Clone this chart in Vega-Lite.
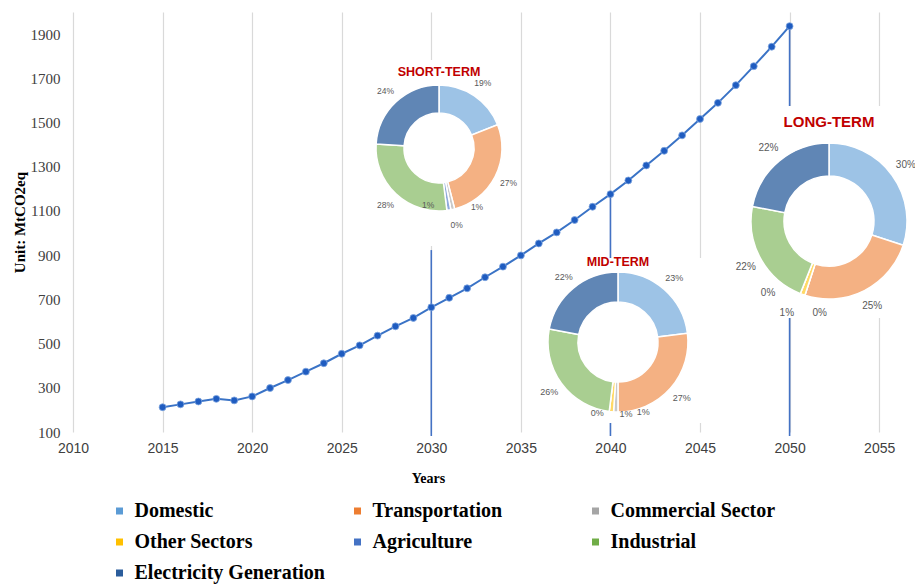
{
  "$schema": "https://vega.github.io/schema/vega-lite/v6.json",
  "width": 842,
  "height": 420,
  "autosize": "none",
  "padding": {"left": 73, "top": 12, "right": 0, "bottom": 153},
  "background": "white",
  "config": {
    "view": {"stroke": null},
    "axisX": {
      "domain": false, "ticks": false, "grid": true, "gridColor": "#d9d9d9", "gridWidth": 1.2,
      "labelFont": "Liberation Sans", "labelFontSize": 14, "labelColor": "#404040", "labelPadding": 9,
      "labelFlush": false, "labelOverlap": false,
      "titleFont": "Liberation Serif", "titleFontSize": 14, "titleFontWeight": "bold", "titleColor": "#000000",
      "titleX": 355, "titleY": 46, "titleBaseline": "middle", "titleAlign": "center"
    },
    "axisY": {
      "domain": false, "ticks": false, "grid": false,
      "labelFont": "Liberation Serif", "labelFontSize": 15, "labelColor": "#404040", "labelPadding": 13,
      "labelOverlap": false,
      "titleFont": "Liberation Serif", "titleFontSize": 15, "titleFontWeight": "bold", "titleColor": "#000000",
      "titleX": -54, "titleY": 210, "titleBaseline": "middle", "titleAlign": "center", "titleAngle": -90
    },
    "legend": {
      "orient": "none", "legendX": 36.5, "legendY": 489, "columns": 3, "direction": "horizontal", "gridAlign": "all",
      "symbolType": "square", "symbolSize": 49, "symbolStrokeWidth": 0, "symbolOpacity": 1,
      "labelFont": "Liberation Serif", "labelFontSize": 20, "labelFontWeight": "bold", "labelColor": "#000000",
      "labelLimit": 300, "labelOffset": 5, "rowPadding": 11, "columnPadding": 22, "padding": 0
    }
  },
  "datasets": {
    "emissions": [
      {"year": 2015, "value": 212}, {"year": 2016, "value": 225}, {"year": 2017, "value": 238},
      {"year": 2018, "value": 250}, {"year": 2019, "value": 243}, {"year": 2020, "value": 261},
      {"year": 2021, "value": 299}, {"year": 2022, "value": 335}, {"year": 2023, "value": 373},
      {"year": 2024, "value": 411}, {"year": 2025, "value": 454}, {"year": 2026, "value": 492},
      {"year": 2027, "value": 536}, {"year": 2028, "value": 578}, {"year": 2029, "value": 616},
      {"year": 2030, "value": 664}, {"year": 2031, "value": 707}, {"year": 2032, "value": 750},
      {"year": 2033, "value": 800}, {"year": 2034, "value": 848}, {"year": 2035, "value": 899},
      {"year": 2036, "value": 953}, {"year": 2037, "value": 1003}, {"year": 2038, "value": 1059},
      {"year": 2039, "value": 1119}, {"year": 2040, "value": 1176}, {"year": 2041, "value": 1238},
      {"year": 2042, "value": 1306}, {"year": 2043, "value": 1372}, {"year": 2044, "value": 1442},
      {"year": 2045, "value": 1516}, {"year": 2046, "value": 1589}, {"year": 2047, "value": 1669},
      {"year": 2048, "value": 1755}, {"year": 2049, "value": 1843}, {"year": 2050, "value": 1936}
    ],
    "links": [
      {"year": 2030, "from": 923, "to": 82},
      {"year": 2040, "from": 1176, "to": 82},
      {"year": 2050, "from": 1936, "to": 82}
    ],
    "shares": [
      {"term": "Short-term", "sector": "Domestic", "k": 1, "share": 0.19},
      {"term": "Short-term", "sector": "Transportation", "k": 2, "share": 0.27},
      {"term": "Short-term", "sector": "Commercial Sector", "k": 3, "share": 0.01},
      {"term": "Short-term", "sector": "Other Sectors", "k": 4, "share": 0.0},
      {"term": "Short-term", "sector": "Agriculture", "k": 5, "share": 0.01},
      {"term": "Short-term", "sector": "Industrial", "k": 6, "share": 0.28},
      {"term": "Short-term", "sector": "Electricity Generation", "k": 7, "share": 0.24},
      {"term": "Mid-term", "sector": "Domestic", "k": 1, "share": 0.23},
      {"term": "Mid-term", "sector": "Transportation", "k": 2, "share": 0.27},
      {"term": "Mid-term", "sector": "Commercial Sector", "k": 3, "share": 0.01},
      {"term": "Mid-term", "sector": "Other Sectors", "k": 4, "share": 0.01},
      {"term": "Mid-term", "sector": "Agriculture", "k": 5, "share": 0.0},
      {"term": "Mid-term", "sector": "Industrial", "k": 6, "share": 0.26},
      {"term": "Mid-term", "sector": "Electricity Generation", "k": 7, "share": 0.22},
      {"term": "Long-term", "sector": "Domestic", "k": 1, "share": 0.30},
      {"term": "Long-term", "sector": "Transportation", "k": 2, "share": 0.25},
      {"term": "Long-term", "sector": "Commercial Sector", "k": 3, "share": 0.0},
      {"term": "Long-term", "sector": "Other Sectors", "k": 4, "share": 0.01},
      {"term": "Long-term", "sector": "Agriculture", "k": 5, "share": 0.0},
      {"term": "Long-term", "sector": "Industrial", "k": 6, "share": 0.22},
      {"term": "Long-term", "sector": "Electricity Generation", "k": 7, "share": 0.22}
    ]
  },
  "layer": [
    {
      "data": {"name": "links"},
      "mark": {"type": "rule", "color": "#4472c4", "strokeWidth": 1.6},
      "encoding": {
        "x": {"field": "year", "type": "quantitative", "scale": {"domain": [2010, 2057], "nice": false, "zero": false}, "axis": {"values": [2010, 2015, 2020, 2025, 2030, 2035, 2040, 2045, 2050, 2055], "format": "d", "title": "Years"}},
        "y": {"field": "from", "type": "quantitative", "scale": {"domain": [100, 2000], "nice": false, "zero": false}, "axis": {"values": [100, 300, 500, 700, 900, 1100, 1300, 1500, 1700, 1900], "format": "d", "title": "Unit: MtCO2eq"}},
        "y2": {"field": "to"}
      }
    },
    {
      "data": {"values": [{}]},
      "mark": {"type": "rect", "color": "white"},
      "encoding": {
        "x": {"datum": 2026.36, "type": "quantitative", "scale": {"domain": [2010, 2057], "nice": false, "zero": false}, "axis": {"values": [2010, 2015, 2020, 2025, 2030, 2035, 2040, 2045, 2050, 2055], "format": "d", "title": "Years"}},
        "x2": {"datum": 2034.62},
        "y": {"datum": 941, "type": "quantitative", "scale": {"domain": [100, 2000], "nice": false, "zero": false}, "axis": {"values": [100, 300, 500, 700, 900, 1100, 1300, 1500, 1700, 1900], "format": "d", "title": "Unit: MtCO2eq"}},
        "y2": {"datum": 1783}
      }
    },
    {
      "data": {"values": [{}]},
      "mark": {"type": "rect", "color": "white"},
      "encoding": {
        "x": {"datum": 2035.96, "type": "quantitative", "scale": {"domain": [2010, 2057], "nice": false, "zero": false}, "axis": {"values": [2010, 2015, 2020, 2025, 2030, 2035, 2040, 2045, 2050, 2055], "format": "d", "title": "Years"}},
        "x2": {"datum": 2045.33},
        "y": {"datum": 141, "type": "quantitative", "scale": {"domain": [100, 2000], "nice": false, "zero": false}, "axis": {"values": [100, 300, 500, 700, 900, 1100, 1300, 1500, 1700, 1900], "format": "d", "title": "Unit: MtCO2eq"}},
        "y2": {"datum": 887}
      }
    },
    {
      "data": {"values": [{}]},
      "mark": {"type": "rect", "color": "white"},
      "encoding": {
        "x": {"datum": 2047.34, "type": "quantitative", "scale": {"domain": [2010, 2057], "nice": false, "zero": false}, "axis": {"values": [2010, 2015, 2020, 2025, 2030, 2035, 2040, 2045, 2050, 2055], "format": "d", "title": "Years"}},
        "x2": {"datum": 2057},
        "y": {"datum": 616, "type": "quantitative", "scale": {"domain": [100, 2000], "nice": false, "zero": false}, "axis": {"values": [100, 300, 500, 700, 900, 1100, 1300, 1500, 1700, 1900], "format": "d", "title": "Unit: MtCO2eq"}},
        "y2": {"datum": 1575}
      }
    },
    {
      "data": {"name": "emissions"},
      "mark": {"type": "line", "color": "#3a73c6", "strokeWidth": 2},
      "encoding": {
        "x": {"field": "year", "type": "quantitative", "scale": {"domain": [2010, 2057], "nice": false, "zero": false}, "axis": {"values": [2010, 2015, 2020, 2025, 2030, 2035, 2040, 2045, 2050, 2055], "format": "d", "title": "Years"}},
        "y": {"field": "value", "type": "quantitative", "scale": {"domain": [100, 2000], "nice": false, "zero": false}, "axis": {"values": [100, 300, 500, 700, 900, 1100, 1300, 1500, 1700, 1900], "format": "d", "title": "Unit: MtCO2eq"}}
      }
    },
    {
      "data": {"name": "emissions"},
      "mark": {"type": "point", "filled": true, "shape": "circle", "size": 48, "color": "#1f5cc0", "opacity": 1, "stroke": "#7fa6e0", "strokeWidth": 0.8},
      "encoding": {
        "x": {"field": "year", "type": "quantitative", "scale": {"domain": [2010, 2057], "nice": false, "zero": false}, "axis": {"values": [2010, 2015, 2020, 2025, 2030, 2035, 2040, 2045, 2050, 2055], "format": "d", "title": "Years"}},
        "y": {"field": "value", "type": "quantitative", "scale": {"domain": [100, 2000], "nice": false, "zero": false}, "axis": {"values": [100, 300, 500, 700, 900, 1100, 1300, 1500, 1700, 1900], "format": "d", "title": "Unit: MtCO2eq"}}
      }
    },
    {
      "data": {"name": "shares"},
      "transform": [{"filter": "datum.term == 'Short-term'"}],
      "encoding": {
        "x": {"datum": 2030.43, "type": "quantitative", "scale": {"domain": [2010, 2057], "nice": false, "zero": false}, "axis": {"values": [2010, 2015, 2020, 2025, 2030, 2035, 2040, 2045, 2050, 2055], "format": "d", "title": "Years"}},
        "y": {"datum": 1385, "type": "quantitative", "scale": {"domain": [100, 2000], "nice": false, "zero": false}, "axis": {"values": [100, 300, 500, 700, 900, 1100, 1300, 1500, 1700, 1900], "format": "d", "title": "Unit: MtCO2eq"}},
        "theta": {"field": "share", "type": "quantitative", "stack": true, "scale": {"domain": [0, 1]}},
        "order": {"field": "k", "type": "quantitative"},
        "detail": {"field": "sector"},
        "color": {
          "field": "sector", "type": "nominal", "title": null,
          "scale": {
            "domain": ["Domestic", "Transportation", "Commercial Sector", "Other Sectors", "Agriculture", "Industrial", "Electricity Generation"],
            "range": ["#5b9bd5", "#ed7d31", "#a5a5a5", "#ffc000", "#4472c4", "#70ad47", "#2b5d9c"]
          }
        }
      },
      "layer": [
        {
          "mark": {"type": "arc", "outerRadius": 63, "innerRadius": 35, "stroke": "white", "strokeWidth": 1.5},
          "encoding": {"fillOpacity": {"condition": {"test": "datum.sector == 'Electricity Generation'", "value": 0.75}, "value": 0.6}}
        },
        {
          "mark": {"type": "text", "radius": 78, "font": "Liberation Sans", "fontSize": 8.5},
          "encoding": {"color": {"value": "#595959"}, "text": {"condition": {"test": "datum.share >= 0.05", "field": "share", "type": "quantitative", "format": ".0%"}, "value": ""}}
        },
        {
          "mark": {"type": "text", "radius": 78, "dx": 21, "dy": -17, "font": "Liberation Sans", "fontSize": 8.5},
          "encoding": {"color": {"value": "#595959"}, "text": {"condition": {"test": "datum.sector == 'Commercial Sector'", "field": "share", "type": "quantitative", "format": ".0%"}, "value": ""}}
        },
        {
          "mark": {"type": "text", "radius": 78, "dx": 3, "dy": 0, "font": "Liberation Sans", "fontSize": 8.5},
          "encoding": {"color": {"value": "#595959"}, "text": {"condition": {"test": "datum.sector == 'Other Sectors'", "field": "share", "type": "quantitative", "format": ".0%"}, "value": ""}}
        },
        {
          "mark": {"type": "text", "radius": 78, "dx": -23, "dy": -20, "font": "Liberation Sans", "fontSize": 8.5},
          "encoding": {"color": {"value": "#595959"}, "text": {"condition": {"test": "datum.sector == 'Agriculture'", "field": "share", "type": "quantitative", "format": ".0%"}, "value": ""}}
        }
      ]
    },
    {
      "data": {"name": "shares"},
      "transform": [{"filter": "datum.term == 'Mid-term'"}],
      "encoding": {
        "x": {"datum": 2040.42, "type": "quantitative", "scale": {"domain": [2010, 2057], "nice": false, "zero": false}, "axis": {"values": [2010, 2015, 2020, 2025, 2030, 2035, 2040, 2045, 2050, 2055], "format": "d", "title": "Years"}},
        "y": {"datum": 507, "type": "quantitative", "scale": {"domain": [100, 2000], "nice": false, "zero": false}, "axis": {"values": [100, 300, 500, 700, 900, 1100, 1300, 1500, 1700, 1900], "format": "d", "title": "Unit: MtCO2eq"}},
        "theta": {"field": "share", "type": "quantitative", "stack": true, "scale": {"domain": [0, 1]}},
        "order": {"field": "k", "type": "quantitative"},
        "detail": {"field": "sector"},
        "color": {
          "field": "sector", "type": "nominal", "title": null,
          "scale": {
            "domain": ["Domestic", "Transportation", "Commercial Sector", "Other Sectors", "Agriculture", "Industrial", "Electricity Generation"],
            "range": ["#5b9bd5", "#ed7d31", "#a5a5a5", "#ffc000", "#4472c4", "#70ad47", "#2b5d9c"]
          }
        }
      },
      "layer": [
        {
          "mark": {"type": "arc", "outerRadius": 70, "innerRadius": 40, "stroke": "white", "strokeWidth": 1.5},
          "encoding": {"fillOpacity": {"condition": {"test": "datum.sector == 'Electricity Generation'", "value": 0.75}, "value": 0.6}}
        },
        {
          "mark": {"type": "text", "radius": 85, "font": "Liberation Sans", "fontSize": 9},
          "encoding": {"color": {"value": "#595959"}, "text": {"condition": {"test": "datum.share >= 0.05", "field": "share", "type": "quantitative", "format": ".0%"}, "value": ""}}
        },
        {
          "mark": {"type": "text", "radius": 85, "dx": 28, "dy": -15, "font": "Liberation Sans", "fontSize": 9},
          "encoding": {"color": {"value": "#595959"}, "text": {"condition": {"test": "datum.sector == 'Commercial Sector'", "field": "share", "type": "quantitative", "format": ".0%"}, "value": ""}}
        },
        {
          "mark": {"type": "text", "radius": 85, "dx": 16, "dy": -13, "font": "Liberation Sans", "fontSize": 9},
          "encoding": {"color": {"value": "#595959"}, "text": {"condition": {"test": "datum.sector == 'Other Sectors'", "field": "share", "type": "quantitative", "format": ".0%"}, "value": ""}}
        },
        {
          "mark": {"type": "text", "radius": 85, "dx": -10, "dy": -13, "font": "Liberation Sans", "fontSize": 9},
          "encoding": {"color": {"value": "#595959"}, "text": {"condition": {"test": "datum.sector == 'Agriculture'", "field": "share", "type": "quantitative", "format": ".0%"}, "value": ""}}
        }
      ]
    },
    {
      "data": {"name": "shares"},
      "transform": [{"filter": "datum.term == 'Long-term'"}],
      "encoding": {
        "x": {"datum": 2052.2, "type": "quantitative", "scale": {"domain": [2010, 2057], "nice": false, "zero": false}, "axis": {"values": [2010, 2015, 2020, 2025, 2030, 2035, 2040, 2045, 2050, 2055], "format": "d", "title": "Years"}},
        "y": {"datum": 1054, "type": "quantitative", "scale": {"domain": [100, 2000], "nice": false, "zero": false}, "axis": {"values": [100, 300, 500, 700, 900, 1100, 1300, 1500, 1700, 1900], "format": "d", "title": "Unit: MtCO2eq"}},
        "theta": {"field": "share", "type": "quantitative", "stack": true, "scale": {"domain": [0, 1]}},
        "order": {"field": "k", "type": "quantitative"},
        "detail": {"field": "sector"},
        "color": {
          "field": "sector", "type": "nominal", "title": null,
          "scale": {
            "domain": ["Domestic", "Transportation", "Commercial Sector", "Other Sectors", "Agriculture", "Industrial", "Electricity Generation"],
            "range": ["#5b9bd5", "#ed7d31", "#a5a5a5", "#ffc000", "#4472c4", "#70ad47", "#2b5d9c"]
          }
        }
      },
      "layer": [
        {
          "mark": {"type": "arc", "outerRadius": 78, "innerRadius": 45, "stroke": "white", "strokeWidth": 1.5},
          "encoding": {"fillOpacity": {"condition": {"test": "datum.sector == 'Electricity Generation'", "value": 0.75}, "value": 0.6}}
        },
        {
          "mark": {"type": "text", "radius": 95, "font": "Liberation Sans", "fontSize": 10},
          "encoding": {"color": {"value": "#595959"}, "text": {"condition": {"test": "datum.share >= 0.05", "field": "share", "type": "quantitative", "format": ".0%"}, "value": ""}}
        },
        {
          "mark": {"type": "text", "radius": 95, "dx": 20, "dy": 2, "font": "Liberation Sans", "fontSize": 10},
          "encoding": {"color": {"value": "#595959"}, "text": {"condition": {"test": "datum.sector == 'Commercial Sector'", "field": "share", "type": "quantitative", "format": ".0%"}, "value": ""}}
        },
        {
          "mark": {"type": "text", "radius": 95, "dx": -10, "dy": 3, "font": "Liberation Sans", "fontSize": 10},
          "encoding": {"color": {"value": "#595959"}, "text": {"condition": {"test": "datum.sector == 'Other Sectors'", "field": "share", "type": "quantitative", "format": ".0%"}, "value": ""}}
        },
        {
          "mark": {"type": "text", "radius": 95, "dx": -26, "dy": -16, "font": "Liberation Sans", "fontSize": 10},
          "encoding": {"color": {"value": "#595959"}, "text": {"condition": {"test": "datum.sector == 'Agriculture'", "field": "share", "type": "quantitative", "format": ".0%"}, "value": ""}}
        }
      ]
    },
    {
      "data": {"values": [{}]},
      "mark": {"type": "text", "font": "Liberation Sans", "fontWeight": "bold", "fontSize": 12.5, "color": "#c00000"},
      "encoding": {
        "x": {"datum": 2030.43, "type": "quantitative", "scale": {"domain": [2010, 2057], "nice": false, "zero": false}, "axis": {"values": [2010, 2015, 2020, 2025, 2030, 2035, 2040, 2045, 2050, 2055], "format": "d", "title": "Years"}},
        "y": {"datum": 1729, "type": "quantitative", "scale": {"domain": [100, 2000], "nice": false, "zero": false}, "axis": {"values": [100, 300, 500, 700, 900, 1100, 1300, 1500, 1700, 1900], "format": "d", "title": "Unit: MtCO2eq"}},
        "text": {"value": "SHORT-TERM"}
      }
    },
    {
      "data": {"values": [{}]},
      "mark": {"type": "text", "font": "Liberation Sans", "fontWeight": "bold", "fontSize": 12.5, "color": "#c00000"},
      "encoding": {
        "x": {"datum": 2040.42, "type": "quantitative", "scale": {"domain": [2010, 2057], "nice": false, "zero": false}, "axis": {"values": [2010, 2015, 2020, 2025, 2030, 2035, 2040, 2045, 2050, 2055], "format": "d", "title": "Years"}},
        "y": {"datum": 869, "type": "quantitative", "scale": {"domain": [100, 2000], "nice": false, "zero": false}, "axis": {"values": [100, 300, 500, 700, 900, 1100, 1300, 1500, 1700, 1900], "format": "d", "title": "Unit: MtCO2eq"}},
        "text": {"value": "MID-TERM"}
      }
    },
    {
      "data": {"values": [{}]},
      "mark": {"type": "text", "font": "Liberation Sans", "fontWeight": "bold", "fontSize": 15, "color": "#c00000"},
      "encoding": {
        "x": {"datum": 2052.2, "type": "quantitative", "scale": {"domain": [2010, 2057], "nice": false, "zero": false}, "axis": {"values": [2010, 2015, 2020, 2025, 2030, 2035, 2040, 2045, 2050, 2055], "format": "d", "title": "Years"}},
        "y": {"datum": 1502, "type": "quantitative", "scale": {"domain": [100, 2000], "nice": false, "zero": false}, "axis": {"values": [100, 300, 500, 700, 900, 1100, 1300, 1500, 1700, 1900], "format": "d", "title": "Unit: MtCO2eq"}},
        "text": {"value": "LONG-TERM"}
      }
    }
  ]
}
